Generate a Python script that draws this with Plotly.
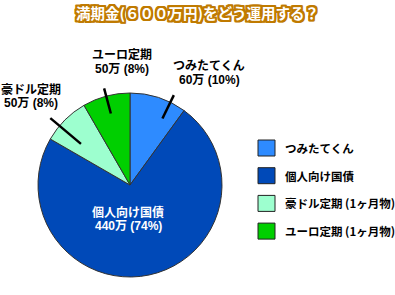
import math
import plotly.graph_objects as go

categories = ["つみたてくん", "個人向け国債", "豪ドル定期", "ユーロ定期"]
values = [60, 440, 50, 50]
percents = [10, 74, 8, 8]
legend_labels = ["つみたてくん", "個人向け国債", "豪ドル定期 (1ヶ月物)", "ユーロ定期 (1ヶ月物)"]
colors = ["#2e8bff", "#0049b8", "#9dffcf", "#00cf00"]
title_text = "満期金(６００万円)をどう運用する？"

W, H = 395, 295
CX, CY, R = 130, 185, 92  # pie centre / radius in pixels
FONT = "Noto Sans CJK JP"
LABEL_FONT = "Liberation Sans, Noto Sans CJK JP"

fig = go.Figure()
fig.add_trace(go.Pie(
    labels=categories, values=values, sort=False, direction="clockwise",
    rotation=0, textinfo="none", hoverinfo="label+value+percent",
    marker=dict(colors=colors, line=dict(color="#333333", width=1)),
    domain=dict(x=[(CX - R) / W, (CX + R) / W], y=[(H - CY - R) / H, (H - CY + R) / H]),
    showlegend=False,
))

def px(x, y):
    return x / W, 1 - y / H

total = sum(values)
# label placement (pixel anchors for the two lines) and leader line radii per category
label_pos = {"つみたてくん": (209, 66, 80), "個人向け国債": (128, 212, 226),
             "豪ドル定期": (31, 89, 103), "ユーロ定期": (122, 55, 69)}
leader = {"つみたてくん": (74, 100, 8), "豪ドル定期": (64, 104, -5), "ユーロ定期": (74, 100, 0)}

shapes = []
annotations = []
cum = 0
for cat, v, pct in zip(categories, values, percents):
    mid = (cum + v / 2) / total * 2 * math.pi
    cum += v
    inside = cat == "個人向け国債"
    lx, ly1, ly2 = label_pos[cat]
    for txt, ly in ((cat, ly1), (f"{v}万 ({pct}%)", ly2)):
        x, y = px(lx, ly)
        annotations.append(dict(
            x=x, y=y, xref="paper", yref="paper", showarrow=False,
            text=txt, align="center", borderpad=0,
            font=dict(family=LABEL_FONT, size=12, color="white" if inside else "black", weight="bold"),
            xanchor="center", yanchor="middle",
        ))
    if cat in leader:
        r0, r1, da = leader[cat]
        a = mid + math.radians(da)
        x0, y0 = px(CX + r0 * math.sin(a), CY - r0 * math.cos(a))
        x1, y1 = px(CX + r1 * math.sin(a), CY - r1 * math.cos(a))
        shapes.append(dict(type="line", xref="paper", yref="paper", x0=x0, y0=y0, x1=x1, y1=y1,
                           line=dict(color="black", width=2.5)))

# custom legend
for i, (lab, col) in enumerate(zip(legend_labels, colors)):
    yc = 148 + i * 27.7
    xa, ya = px(258, yc - 8)
    xb, yb = px(275, yc + 8)
    shapes.append(dict(type="rect", xref="paper", yref="paper", x0=xa, y0=yb, x1=xb, y1=ya,
                       fillcolor=col, line=dict(color="#222222", width=1)))
    tx, ty = px(283, yc)
    annotations.append(dict(x=tx, y=ty, xref="paper", yref="paper", showarrow=False,
                            text=lab, xanchor="left", yanchor="middle",
                            font=dict(family=FONT, size=11.5, color="black", weight="bold")))

oc = "#c07a00"
shadow = ", ".join(f"{dx}px {dy}px 0 {oc}" for dx in (-2, -1, 0, 1, 2) for dy in (-2, -1, 0, 1, 2) if (dx, dy) != (0, 0))
tx, ty = px(197, 13)
annotations.append(dict(x=tx, y=ty, xref="paper", yref="paper", showarrow=False,
                        text=title_text, xanchor="center", yanchor="middle",
                        font=dict(family=FONT, size=14.5, color="white", weight="bold", shadow=shadow)))

fig.update_layout(
    width=W, height=H, margin=dict(l=0, r=0, t=0, b=0),
    paper_bgcolor="white", plot_bgcolor="white",
    shapes=shapes, annotations=annotations,
)
fig.write_html("out.html")
